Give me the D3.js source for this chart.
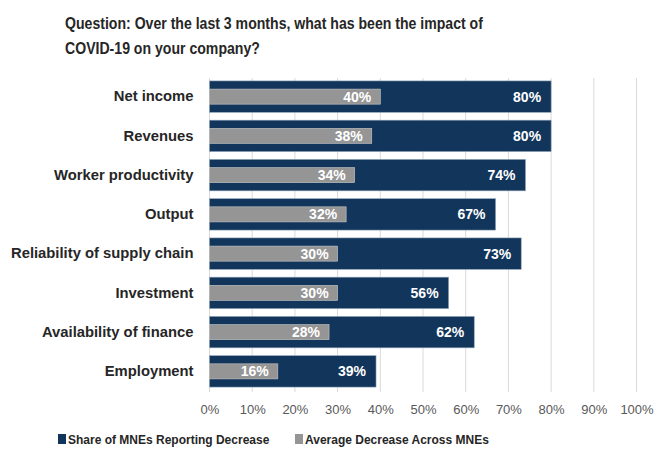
<!DOCTYPE html>
<html>
<head>
<meta charset="utf-8">
<script src="https://cdn.jsdelivr.net/npm/d3@7"></script>
<style>
  body { margin: 0; background: #fff; }
  svg text { font-family: "Liberation Sans", Arial, sans-serif; }
</style>
</head>
<body>
<svg width="655" height="449"></svg>
<script>
// chart data
var categories = ['Net income', 'Revenues', 'Worker productivity', 'Output',
                  'Reliability of supply chain', 'Investment', 'Availability of finance', 'Employment']
var shareReporting = [0.80, 0.80, 0.74, 0.67, 0.73, 0.56, 0.62, 0.39]
var avgDecrease = [0.40, 0.38, 0.34, 0.32, 0.30, 0.30, 0.28, 0.16]
var xTicks = [0, 0.1, 0.2, 0.3, 0.4, 0.5, 0.6, 0.7, 0.8, 0.9, 1]
var seriesNames = ['Share of MNEs Reporting Decrease', 'Average Decrease Across MNEs']
var titleLines = ['Question: Over the last 3 months, what has been the impact of', 'COVID-19 on your company?']

var navy = '#12355b'
var grey = '#959595'

var margin = {top: 77, left: 209.5, right: 18.5, bottom: 58}
var width = 655
var height = 449

var svg = d3.select('svg')

var xScale = d3.scaleLinear()
            .domain([0, 1])
            .range([margin.left, width - margin.right])

var yScale = d3.scaleBand()
            .domain(categories)
            .range([margin.top, height - margin.bottom])
            .paddingInner(0.2)
            .paddingOuter(0.1)

// title (stretched a bit in height to look like the narrow original font)
svg.append('g').selectAll('text')
    .data(titleLines)
    .enter().append('text')
    .attr('transform', (d, i) => `translate(65, ${29 + i * 25}) scale(1, 1.12)`)
    .style('font-size', '14.1px')
    .style('font-weight', 'bold')
    .style('fill', '#262626')
    .text(d => d)

// gridlines
svg.append('g').selectAll('line')
    .data(xTicks)
    .enter().append('line')
    .attr('x1', d => xScale(d))
    .attr('x2', d => xScale(d))
    .attr('y1', margin.top + 1)
    .attr('y2', height - margin.bottom + 1)
    .attr('stroke', '#d9d9d9')
    .attr('stroke-width', 1)

// x axis labels
var xAxis = svg.append('g')
    .attr('transform', `translate(0, ${height - margin.bottom})`)
    .call(d3.axisBottom(xScale).tickValues(xTicks).tickFormat(d3.format('.0%')).tickSize(0).tickPadding(14))
xAxis.select('.domain').remove()
xAxis.selectAll('text')
    .style('font-size', '13px')
    .style('fill', '#595959')
    .style('font-family', '"Liberation Sans", sans-serif')

// category labels
var yAxis = svg.append('g')
    .attr('transform', `translate(${margin.left}, 0)`)
    .call(d3.axisLeft(yScale).tickSize(0).tickPadding(16))
yAxis.select('.domain').remove()
yAxis.selectAll('text')
    .style('font-size', '14.8px')
    .style('font-weight', 'bold')
    .style('fill', '#262626')
    .style('font-family', '"Liberation Sans", sans-serif')

// navy bars
var rows = svg.append('g').selectAll('g')
    .data(categories)
    .enter().append('g')

rows.append('rect')
    .attr('x', xScale(0))
    .attr('y', d => yScale(d))
    .attr('width', (d, i) => xScale(shareReporting[i]) - xScale(0))
    .attr('height', yScale.bandwidth())
    .attr('fill', navy)
    .attr('stroke', '#8fa3b8')
    .attr('stroke-width', 0.6)

var greyH = yScale.bandwidth() * 0.48
rows.append('rect')
    .attr('x', xScale(0))
    .attr('y', d => yScale(d) + (yScale.bandwidth() - greyH) / 2)
    .attr('width', (d, i) => xScale(avgDecrease[i]) - xScale(0))
    .attr('height', greyH)
    .attr('fill', grey)
    .attr('stroke', '#c8c8c8')
    .attr('stroke-width', 0.6)

// value labels, inside end
rows.append('text')
    .attr('x', (d, i) => xScale(shareReporting[i]) - 10)
    .attr('y', d => yScale(d) + yScale.bandwidth() / 2)
    .attr('dy', '0.36em')
    .attr('text-anchor', 'end')
    .style('font-size', '14px')
    .style('font-weight', 'bold')
    .style('fill', '#fff')
    .text((d, i) => d3.format('.0%')(shareReporting[i]))

rows.append('text')
    .attr('x', (d, i) => xScale(avgDecrease[i]) - 9)
    .attr('y', d => yScale(d) + yScale.bandwidth() / 2)
    .attr('dy', '0.36em')
    .attr('text-anchor', 'end')
    .style('font-size', '14px')
    .style('font-weight', 'bold')
    .style('fill', '#fff')
    .text((d, i) => d3.format('.0%')(avgDecrease[i]))

// legend
var legendX = [58, 295]
var legend = svg.append('g').selectAll('g')
    .data(seriesNames)
    .enter().append('g')
    .attr('transform', (d, i) => `translate(${legendX[i]}, 434)`)
legend.append('rect')
    .attr('width', 8)
    .attr('height', 10)
    .attr('fill', (d, i) => i == 0 ? navy : grey)
legend.append('text')
    .attr('transform', 'translate(10, 9.5) scale(1, 1.1)')
    .style('font-size', '12px')
    .style('font-weight', 'bold')
    .style('fill', '#262626')
    .text(d => d)
</script>
</body>
</html>
